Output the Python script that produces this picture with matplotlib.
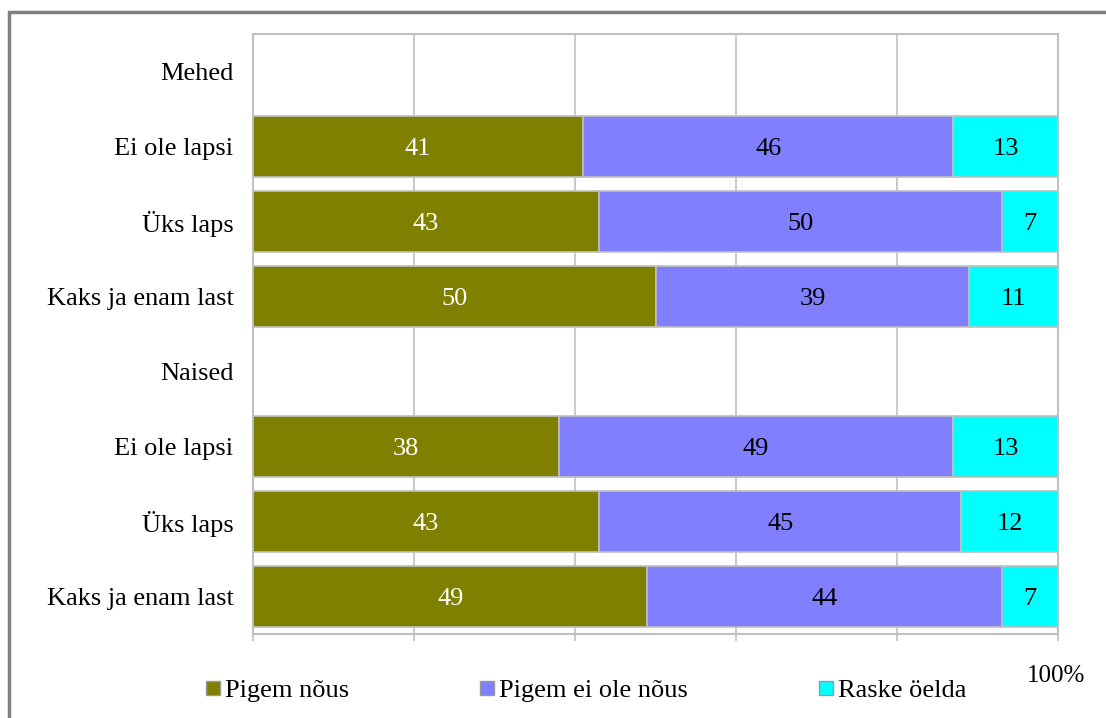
import matplotlib
matplotlib.use('Agg')
import matplotlib.pyplot as plt
from matplotlib.lines import Line2D
from matplotlib.patches import Rectangle
import numpy as np

plt.rcParams['font.family'] = ['Liberation Serif', 'DejaVu Serif']

# Ridade nimed ülevalt alla (Mehed ja Naised on päiseread ilma tulpadeta)
ridade_nimed = ['Mehed', 'Ei ole lapsi', 'Üks laps', 'Kaks ja enam last',
                'Naised', 'Ei ole lapsi', 'Üks laps', 'Kaks ja enam last']
pigem_nous = [0, 41, 43, 50, 0, 38, 43, 49]
pigem_ei_ole_nous = [0, 46, 50, 39, 0, 49, 45, 44]
raske_oelda = [0, 13, 7, 11, 0, 13, 12, 7]

seeriad = ['Pigem nõus', 'Pigem ei ole nõus', 'Raske öelda']
varvid = ['#808000', '#8080FF', '#00FFFF']
teksti_varvid = ['white', 'black', 'black']

fig = plt.figure(figsize=(11.06, 7.18), dpi=100)
ax = fig.add_axes([253/1106, 1 - 634/718, 805/1106, 600/718])

y = np.arange(len(ridade_nimed))
vasak = np.zeros(len(ridade_nimed))
for vaartused, nimi, varv, tv in zip([pigem_nous, pigem_ei_ole_nous, raske_oelda],
                                     seeriad, varvid, teksti_varvid):
    v = np.array(vaartused, dtype=float)
    ax.barh(y, v, left=vasak, height=0.81, color=varv, edgecolor='#c0c0c0',
            linewidth=1.2, label=nimi, zorder=3)
    for yi, (l, w) in enumerate(zip(vasak, v)):
        if w > 0:
            ax.text(l + w / 2, yi, f'{int(w)}', ha='center', va='center_baseline',
                    color=tv, fontsize=19, zorder=4)
    vasak = vasak + v

ax.set_xlim(0, 100)
ax.set_ylim(len(ridade_nimed) - 0.5, -0.5)
ax.set_yticks(y)
ax.set_yticklabels(ridade_nimed, fontsize=19)
ax.tick_params(axis='y', length=0, pad=14)
ax.set_xticks([0, 20, 40, 60, 80, 100])
ax.set_xticklabels([])
ax.tick_params(axis='x', length=5, color='#c0c0c0', width=1.2)
ax.grid(True, axis='x', color='#c0c0c0', linewidth=1.2, zorder=0)
for s in ax.spines.values():
    s.set_color('#c0c0c0')
    s.set_linewidth(1.5)

# Legend
kasitsejad = [Line2D([], [], marker='s', linestyle='none', markersize=10,
                     markerfacecolor=c, markeredgecolor='#999999')
              for c in varvid]
fig.legend(kasitsejad, seeriad, loc='center', bbox_to_anchor=(0.529, 1 - 690/718),
           ncol=3, frameon=False, fontsize=19, handletextpad=0.1,
           columnspacing=4.9, handlelength=0.7)
fig.text(1056/1106, 1 - 676/718, '100%', ha='center', va='center', fontsize=18)

# Raam ümber joonise
fig.patches.append(Rectangle((9/1106, -0.1), 1.2, 1 - 12/718 + 0.1,
                             transform=fig.transFigure, fill=False,
                             edgecolor='#808080', linewidth=2.5))

fig.savefig('out.png', dpi=100)
